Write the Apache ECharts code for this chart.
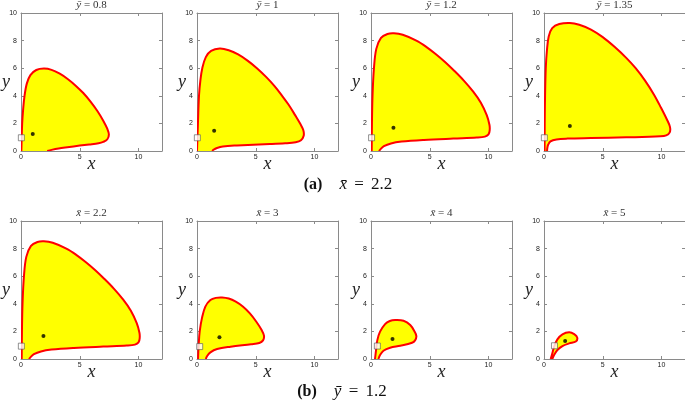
<!DOCTYPE html>
<html>
<head>
<meta charset="utf-8">
<script src="https://cdn.jsdelivr.net/npm/echarts@6/dist/echarts.min.js"></script>
<style>
  html, body { margin: 0; padding: 0; background: #fff; }
  #chart { width: 685px; height: 402px; }
</style>
</head>
<body>
<div id="chart"></div>
<script>
var myChart = echarts.init(document.getElementById('chart'));

// panel titles
const panelTitles = [
    '{i|\u0233} = 0.8', '{i|\u0233} = 1', '{i|\u0233} = 1.2', '{i|\u0233} = 1.35',
    '{i|x\u0304} = 2.2', '{i|x\u0304} = 3', '{i|x\u0304} = 4', '{i|x\u0304} = 5'
];

// region boundaries (x, y)
const curveY08 = [[0.03,0],[0.06,1],[0.1,2],[0.18,3],[0.3,4],[0.5,4.9],[0.8,5.5],[1.3,5.87],[1.95,5.97],[2.6,5.88],[3.3,5.6],[4.0,5.2],[4.7,4.7],[5.3,4.2],[5.9,3.6],[6.5,2.9],[7.0,2.2],[7.35,1.6],[7.48,1.2],[7.35,0.85],[7.0,0.66],[6.6,0.56],[5.8,0.47],[5.0,0.39],[3.94,0.27],[3.2,0.18],[2.6,0.08],[2.23,0]];
const curveY10 = [[0,0],[0.04,1],[0.08,2],[0.17,4],[0.3,5.2],[0.45,6],[0.75,6.8],[1.2,7.25],[1.94,7.42],[2.7,7.3],[3.5,7.0],[4.3,6.55],[5.1,6.0],[5.9,5.35],[6.6,4.7],[7.2,4.05],[7.8,3.35],[8.35,2.6],[8.8,1.95],[9.05,1.5],[9.08,1.1],[8.85,0.78],[8.4,0.64],[7.5,0.56],[6.2,0.5],[3.4,0.4],[2.2,0.33],[1.7,0.22],[1.4,0.09],[1.3,0]];
const curveY12 = [[0.06,0],[0.08,2],[0.13,4],[0.25,6],[0.45,7.4],[0.85,8.2],[1.4,8.48],[1.95,8.53],[2.7,8.42],[3.86,8.0],[4.7,7.55],[5.5,7.03],[6.3,6.45],[7.1,5.8],[7.9,5.1],[8.7,4.3],[9.35,3.5],[9.85,2.6],[10.08,1.9],[10.1,1.5],[10.0,1.2],[9.7,1.04],[9.0,0.97],[7.0,0.9],[4.5,0.8],[2.6,0.68],[1.7,0.55],[1.1,0.35],[0.8,0.12],[0.68,0]];
const curveY135 = [[0.05,0],[0.06,2],[0.09,4],[0.15,6],[0.25,7.3],[0.4,8.3],[0.7,8.9],[1.3,9.2],[2.2,9.28],[3.0,9.15],[4.0,8.8],[5.0,8.25],[6.0,7.55],[7.0,6.75],[7.8,6.0],[8.6,5.1],[9.35,4.1],[9.95,3.15],[10.45,2.3],[10.72,1.75],[10.7,1.35],[10.4,1.13],[9.9,1.06],[7.0,0.99],[4.0,0.94],[2.0,0.9],[1.06,0.84],[0.55,0.7],[0.35,0.45],[0.28,0.2],[0.26,0]];
const curveX3 = [[0.09,0],[0.14,1],[0.23,2],[0.43,3],[0.71,3.8],[1.14,4.27],[1.6,4.43],[2.14,4.46],[2.7,4.38],[3.3,4.15],[3.9,3.8],[4.5,3.3],[5.05,2.7],[5.5,2.1],[5.7,1.7],[5.62,1.35],[5.3,1.16],[4.6,1.07],[2.86,0.89],[1.71,0.72],[1.14,0.48],[0.85,0.2],[0.75,0]];
const curveX4 = [[0.34,0],[0.43,0.65],[0.54,1.37],[0.77,1.98],[1.2,2.53],[1.6,2.75],[2.06,2.82],[2.77,2.77],[3.34,2.46],[3.7,2.0],[3.86,1.66],[3.75,1.35],[3.49,1.18],[2.49,0.96],[1.63,0.82],[1.06,0.6],[0.77,0.29],[0.63,0]];
const curveX5 = [[0.57,0],[0.71,0.41],[0.86,0.89],[1.14,1.42],[1.57,1.78],[2.14,1.93],[2.57,1.8],[2.83,1.55],[2.71,1.27],[2.14,1.13],[1.57,0.94],[1.14,0.65],[0.86,0.29],[0.71,0]];

// row b, first panel is the same case as ybar = 1.2
const curves = [curveY08, curveY10, curveY12, curveY135, curveY12, curveX3, curveX4, curveX5];

// black equilibrium dots
const dots = [[1.0,1.23],[1.46,1.47],[1.91,1.69],[2.2,1.81],[1.91,1.67],[1.91,1.57],[1.83,1.45],[1.8,1.3]];
// white squares
const squares = [[0.03,0.96],[0.03,0.96],[0.05,0.96],[0.03,0.96],[0.03,0.93],[0.23,0.9],[0.54,0.94],[0.89,0.96]];

const xTicks = [0, 5, 10];
const yTicks = [0, 2, 4, 6, 8, 10];

const lefts = [21, 197, 371, 544];
const tops = [13, 221];
const W = 141, H = 138;

const serif = 'Liberation Serif';
const frameColor = '#8a8a8a';

const grids = [], xAxes = [], yAxes = [], series = [], titles = [];

for (let i = 0; i < 8; i++) {
    const left = lefts[i % 4], top = tops[Math.floor(i / 4)];
    grids.push({ left: left, top: top, width: W, height: H, outerBoundsMode: 'none' });

    const xa = 2 * i, ya = 2 * i;
    xAxes.push({
        type: 'value', gridIndex: i, min: 0, max: 12, interval: 5, position: 'bottom',
        axisLine: { show: true, onZero: false, lineStyle: { color: frameColor, width: 1 } },
        axisTick: { inside: true, length: 3, lineStyle: { color: frameColor } },
        axisLabel: { showMaxLabel: false, fontSize: 7, color: '#222', margin: 3, fontFamily: 'Liberation Sans',
            formatter: v => xTicks.indexOf(v) >= 0 ? String(v) : '' },
        splitLine: { show: false },
        name: 'x', nameLocation: 'middle', nameGap: 4, nameMoveOverlap: false,
        nameTextStyle: { fontFamily: serif, fontStyle: 'italic', fontSize: 18, color: '#222' }
    });
    xAxes.push({
        type: 'value', gridIndex: i, min: 0, max: 12, interval: 5, position: 'top',
        axisLine: { show: true, onZero: false, lineStyle: { color: frameColor, width: 1 } },
        axisTick: { inside: true, length: 3, lineStyle: { color: frameColor } },
        axisLabel: { show: false }, splitLine: { show: false }
    });
    yAxes.push({
        type: 'value', gridIndex: i, min: 0, max: 10, interval: 2, position: 'left',
        axisLine: { show: true, onZero: false, lineStyle: { color: frameColor, width: 1 } },
        axisTick: { inside: true, length: 3, lineStyle: { color: frameColor } },
        axisLabel: { fontSize: 7, color: '#222', margin: 4, fontFamily: 'Liberation Sans',
            formatter: v => yTicks.indexOf(v) >= 0 ? String(v) : '' },
        splitLine: { show: false },
        name: 'y', nameLocation: 'middle', nameRotate: 0, nameGap: 11, nameMoveOverlap: false,
        nameTextStyle: { fontFamily: serif, fontStyle: 'italic', fontSize: 18, color: '#222' }
    });
    yAxes.push({
        type: 'value', gridIndex: i, min: 0, max: 10, interval: 2, position: 'right',
        axisLine: { show: true, onZero: false, lineStyle: { color: frameColor, width: 1 } },
        axisTick: { inside: true, length: 3, lineStyle: { color: frameColor } },
        axisLabel: { show: false }, splitLine: { show: false }
    });

    const pts = curves[i];
    series.push({
        type: 'custom', xAxisIndex: xa, yAxisIndex: ya, clip: true, silent: true,
        data: pts,
        renderItem: function (params, api) {
            if (params.dataIndex !== 0) return;
            const line = pts.map(d => api.coord(d));
            const first = pts[0], last = pts[pts.length - 1];
            const poly = line.concat([api.coord([last[0], -0.6]), api.coord([first[0], -0.6])]);
            return {
                type: 'group',
                children: [
                    { type: 'polygon', shape: { points: poly, smooth: 0.35 }, style: { fill: '#ffff00', stroke: null } },
                    { type: 'polyline', shape: { points: line, smooth: 0.35 }, style: { fill: null, stroke: '#ff0000', lineWidth: 2 } }
                ]
            };
        }
    });
    series.push({
        type: 'scatter', xAxisIndex: xa, yAxisIndex: ya, silent: true,
        symbol: 'circle', symbolSize: 4, data: [dots[i]],
        itemStyle: { color: '#000' }
    });
    series.push({
        type: 'scatter', xAxisIndex: xa, yAxisIndex: ya, silent: true,
        symbol: 'rect', symbolSize: 6, data: [squares[i]],
        itemStyle: { color: '#fff', borderColor: '#555', borderWidth: 0.8 }
    });

    titles.push({
        text: panelTitles[i], left: left + W / 2, top: top - 13, textAlign: 'center', padding: 0,
        textStyle: {
            fontFamily: serif, fontSize: 11, fontWeight: 'normal', color: '#333',
            rich: { i: { fontFamily: serif, fontStyle: 'italic', fontSize: 11, color: '#333' } }
        }
    });
}

// captions
const captionStyle = {
    fontFamily: serif, fontSize: 17, fontWeight: 'normal', color: '#111',
    rich: {
        b: { fontFamily: serif, fontWeight: 'bold', fontSize: 16, color: '#111' },
        i: { fontFamily: serif, fontStyle: 'italic', fontSize: 17, color: '#111' },
        m: { fontFamily: serif, fontSize: 17, color: '#111', padding: [0, 3] }
    }
};
titles.push({ text: '{b|(a)}    {i|x\u0304} {m|=} 2.2', left: 348, top: 176, textAlign: 'center', padding: 0, textStyle: captionStyle });
titles.push({ text: '{b|(b)}    {i|\u0233} {m|=} 1.2', left: 342, top: 383, textAlign: 'center', padding: 0, textStyle: captionStyle });

myChart.setOption({
    animation: false,
    backgroundColor: '#fff',
    title: titles,
    grid: grids,
    xAxis: xAxes,
    yAxis: yAxes,
    series: series
});

window.addEventListener('resize', function () {
    myChart.resize();
});
</script>
</body>
</html>
